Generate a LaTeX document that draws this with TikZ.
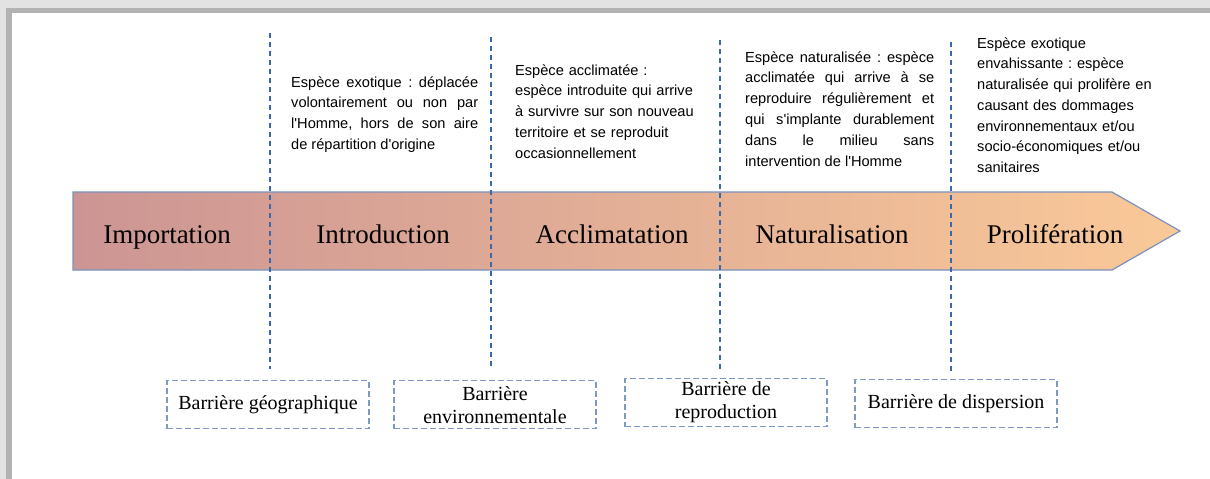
\documentclass[tikz,border=0pt]{standalone}
\usepackage{fontspec}
\setmainfont{Liberation Serif}
\newfontfamily\notefont{Liberation Sans}
\usetikzlibrary{calc, positioning}
\frenchspacing
\definecolor{stageleft}{RGB}{204,149,148}
\definecolor{stageright}{RGB}{250,201,152}
\definecolor{stageedge}{RGB}{122,146,190}
\definecolor{dividerblue}{RGB}{58,104,168}
\definecolor{barrieredge}{RGB}{128,153,196}
\definecolor{shadowdark}{RGB}{178,178,178}
\definecolor{shadowlight}{RGB}{226,226,226}
\def\bw{202pt}
\def\bh{48pt}
\tikzset{
    stage/.style = {
        anchor=base, inner sep=0pt, font=\fontsize{27}{30}\selectfont
    },
    note/.style = {
        anchor=base west, inner sep=0pt, font=\notefont\fontsize{14.6}{20.8}\selectfont
    },
    divider/.style = {
        draw=dividerblue, line width=2.4pt, dash pattern=on 4.5pt off 4.5pt
    },
    barrier/.style = {
        draw=barrieredge, line width=1.3pt, dash pattern=on 6pt off 3pt, rectangle,
        minimum width=\bw, minimum height=\bh, anchor=north, align=center, inner sep=2pt,
        font=\fontsize{20}{23}\selectfont
    },
}

\begin{document}
\begin{tikzpicture}[x=1pt, y=-1pt]
        \useasboundingbox (0,0) rectangle (1210,479);

        % Frame with shadow
        \fill[shadowlight] (0,0) rectangle (1210,479);
        \fill[shadowdark] (6,8) rectangle (1210,479);
        \fill[white] (12,13) rectangle (1210,479);

        % Draw the arrow
        \shadedraw[left color=stageleft, right color=stageright, draw=stageedge, line width=1.2pt]
            (73,192) -- (1112,192) -- (1180,231) -- (1112,270) -- (73,270) -- cycle;

        % Place the stages
        \node[stage] (importation) at (167,243) {Importation};
        \node[stage] (introduction) at (383,243) {Introduction};
        \node[stage] (acclimatation) at (612,243) {Acclimatation};
        \node[stage] (naturalisation) at (832,243) {Naturalisation};
        \node[stage] (proliferation) at (1055,243) {Prolifération};

        % Place the definitions
        \node[note, text width=187pt, align=justify] (exotique) at (291,87)
            {Espèce exotique : déplacée\linebreak volontairement ou non par\linebreak l'Homme, hors de son aire\linebreak de répartition d'origine};
        \node[note, text width=185pt, align=left] (acclimatee) at (515,75)
            {Espèce acclimatée :\\ espèce introduite qui arrive\\ à survivre sur son nouveau\\ territoire et se reproduit\\ occasionnellement};
        \node[note, text width=189pt, align=justify] (naturalisee) at (745,62)
            {Espèce naturalisée : espèce\linebreak acclimatée qui arrive à se\linebreak reproduire régulièrement et\linebreak qui s'implante durablement\linebreak dans le milieu sans\linebreak intervention de l'Homme};
        \node[note, text width=185pt, align=left] (envahissante) at (977,48)
            {Espèce exotique\\ envahissante : espèce\\ naturalisée qui prolifère en\\ causant des dommages\\ environnementaux et/ou\\ socio-économiques et/ou\\ sanitaires};

        % Place the barriers
        \node[barrier] (geo) at (268,380) {Barrière géographique};
        \node[barrier] (env) at (495,380) {Barrière\\ environnementale};
        \node[barrier] (repro) at (726,378) {Barrière de\\ reproduction};
        \node[barrier] (disp) at (956,379) {Barrière de dispersion};

        % Draw the dividers
        \coordinate (d1) at (270,33);
        \coordinate (d2) at (491,37);
        \coordinate (d3) at (720,40);
        \coordinate (d4) at (951,42);
        \draw[divider, shorten >=11pt] (d1) -- (d1 |- geo.north);
        \draw[divider, shorten >=10pt] (d2) -- (d2 |- env.north);
        \draw[divider, shorten >=8pt] (d3) -- (d3 |- repro.north);
        \draw[divider, shorten >=7pt] (d4) -- (d4 |- disp.north);
    \end{tikzpicture}
\end{document}
